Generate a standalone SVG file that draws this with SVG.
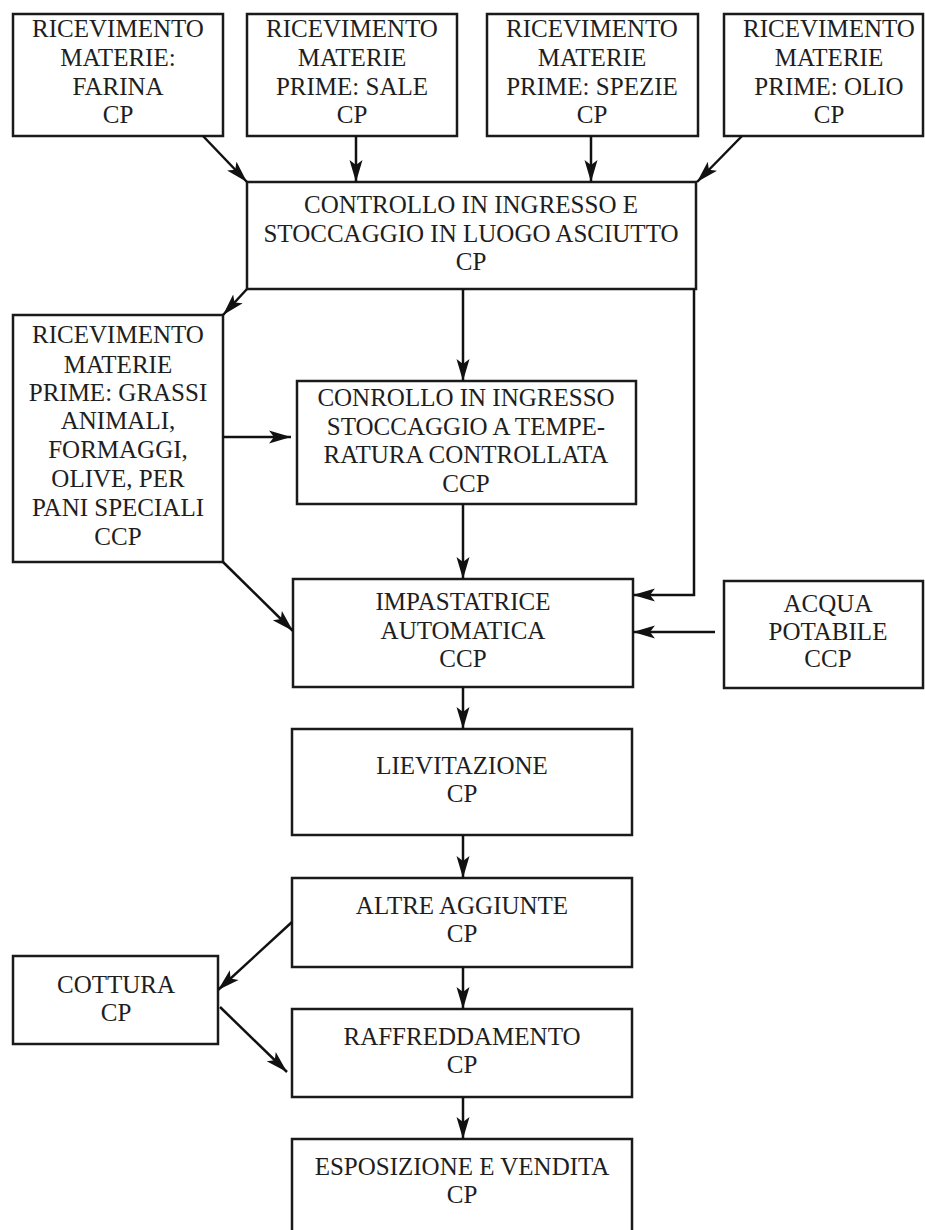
<svg xmlns="http://www.w3.org/2000/svg" width="925" height="1230" viewBox="0 0 925 1230">
  <defs>
    <marker id="arrow" markerUnits="userSpaceOnUse" markerWidth="24" markerHeight="16" refX="22" refY="7" orient="auto">
      <path d="M0,0.5 L22,7 L0,13.5 L5,7 Z" fill="#111"/>
    </marker>
    <style>
      .box { fill: #fff; stroke: #1a1a1a; stroke-width: 2.5; }
      .lbl { font-family: "Liberation Serif", "Times New Roman", serif; font-size: 25px; fill: #1e1e1e; text-anchor: middle; }
      .edge { fill: none; stroke: #111; stroke-width: 2.5; marker-end: url(#arrow); }
    </style>
  </defs>
  <rect width="925" height="1230" fill="#fff"/>

  <!-- incoming raw materials -->
  <g id="farina">
    <rect class="box" x="13" y="14" width="210" height="122"/>
    <text class="lbl"><tspan x="118" y="37">RICEVIMENTO</tspan><tspan x="118" y="66">MATERIE:</tspan><tspan x="118" y="95">FARINA</tspan><tspan x="118" y="123">CP</tspan></text>
  </g>
  <g id="sale">
    <rect class="box" x="247" y="14" width="210" height="122"/>
    <text class="lbl"><tspan x="352" y="37">RICEVIMENTO</tspan><tspan x="352" y="66">MATERIE</tspan><tspan x="352" y="95">PRIME: SALE</tspan><tspan x="352" y="123">CP</tspan></text>
  </g>
  <g id="spezie">
    <rect class="box" x="487" y="14" width="211" height="122"/>
    <text class="lbl"><tspan x="592" y="37">RICEVIMENTO</tspan><tspan x="592" y="66">MATERIE</tspan><tspan x="592" y="95">PRIME: SPEZIE</tspan><tspan x="592" y="123">CP</tspan></text>
  </g>
  <g id="olio">
    <rect class="box" x="724" y="14" width="199" height="122"/>
    <text class="lbl"><tspan x="829" y="37">RICEVIMENTO</tspan><tspan x="829" y="66">MATERIE</tspan><tspan x="829" y="95">PRIME: OLIO</tspan><tspan x="829" y="123">CP</tspan></text>
  </g>

  <!-- dry storage -->
  <g id="controllo-asciutto">
    <rect class="box" x="247" y="182" width="449" height="107"/>
    <text class="lbl"><tspan x="471" y="213">CONTROLLO IN INGRESSO E</tspan><tspan x="471" y="242">STOCCAGGIO IN LUOGO ASCIUTTO</tspan><tspan x="471" y="270">CP</tspan></text>
  </g>

  <g id="grassi">
    <rect class="box" x="13" y="315" width="210" height="247"/>
    <text class="lbl"><tspan x="118" y="343">RICEVIMENTO</tspan><tspan x="118" y="373">MATERIE</tspan><tspan x="118" y="401">PRIME: GRASSI</tspan><tspan x="118" y="429">ANIMALI,</tspan><tspan x="118" y="458">FORMAGGI,</tspan><tspan x="118" y="487">OLIVE, PER</tspan><tspan x="118" y="516">PANI SPECIALI</tspan><tspan x="118" y="545">CCP</tspan></text>
  </g>

  <g id="controllo-temperatura">
    <rect class="box" x="297" y="381" width="339" height="123"/>
    <text class="lbl"><tspan x="466" y="406">CONROLLO IN INGRESSO</tspan><tspan x="466" y="435">STOCCAGGIO A TEMPE-</tspan><tspan x="466" y="463">RATURA CONTROLLATA</tspan><tspan x="466" y="492">CCP</tspan></text>
  </g>

  <g id="impastatrice">
    <rect class="box" x="293" y="579" width="340" height="108"/>
    <text class="lbl"><tspan x="463" y="610">IMPASTATRICE</tspan><tspan x="463" y="639">AUTOMATICA</tspan><tspan x="463" y="667">CCP</tspan></text>
  </g>

  <g id="acqua">
    <rect class="box" x="724" y="581" width="199" height="107"/>
    <text class="lbl"><tspan x="828" y="612">ACQUA</tspan><tspan x="828" y="640">POTABILE</tspan><tspan x="828" y="667">CCP</tspan></text>
  </g>

  <g id="lievitazione">
    <rect class="box" x="292" y="729" width="340" height="106"/>
    <text class="lbl"><tspan x="462" y="774">LIEVITAZIONE</tspan><tspan x="462" y="802">CP</tspan></text>
  </g>

  <g id="altre-aggiunte">
    <rect class="box" x="292" y="878" width="340" height="89"/>
    <text class="lbl"><tspan x="462" y="914">ALTRE AGGIUNTE</tspan><tspan x="462" y="942">CP</tspan></text>
  </g>

  <g id="cottura">
    <rect class="box" x="13" y="956" width="205" height="88"/>
    <text class="lbl"><tspan x="116" y="993">COTTURA</tspan><tspan x="116" y="1021">CP</tspan></text>
  </g>

  <g id="raffreddamento">
    <rect class="box" x="292" y="1009" width="340" height="88"/>
    <text class="lbl"><tspan x="462" y="1045">RAFFREDDAMENTO</tspan><tspan x="462" y="1073">CP</tspan></text>
  </g>

  <g id="esposizione">
    <rect class="box" x="292" y="1139" width="340" height="110"/>
    <text class="lbl"><tspan x="462" y="1175">ESPOSIZIONE E VENDITA</tspan><tspan x="462" y="1203">CP</tspan></text>
  </g>

  <!-- connectors -->
  <g id="connectors">
    <line class="edge" x1="203" y1="136" x2="247" y2="182"/>
    <line class="edge" x1="356" y1="136" x2="356" y2="182"/>
    <line class="edge" x1="591" y1="136" x2="591" y2="182"/>
    <line class="edge" x1="742" y1="136" x2="697" y2="182"/>

    <line class="edge" x1="247" y1="289" x2="223" y2="315"/>
    <line class="edge" x1="463" y1="289" x2="463" y2="381"/>
    <polyline class="edge" points="694,289 694,595 633,595"/>

    <line class="edge" x1="223" y1="437" x2="291" y2="437"/>
    <line class="edge" x1="463" y1="504" x2="463" y2="579"/>
    <line class="edge" x1="223" y1="562" x2="293" y2="631"/>
    <line class="edge" x1="715" y1="632" x2="633" y2="632"/>

    <line class="edge" x1="463" y1="687" x2="463" y2="729"/>
    <line class="edge" x1="463" y1="835" x2="463" y2="878"/>
    <line class="edge" x1="292" y1="922" x2="218" y2="990"/>
    <line class="edge" x1="463" y1="967" x2="463" y2="1009"/>
    <line class="edge" x1="220" y1="1007" x2="287" y2="1072"/>
    <line class="edge" x1="463" y1="1097" x2="463" y2="1139"/>
  </g>
</svg>
